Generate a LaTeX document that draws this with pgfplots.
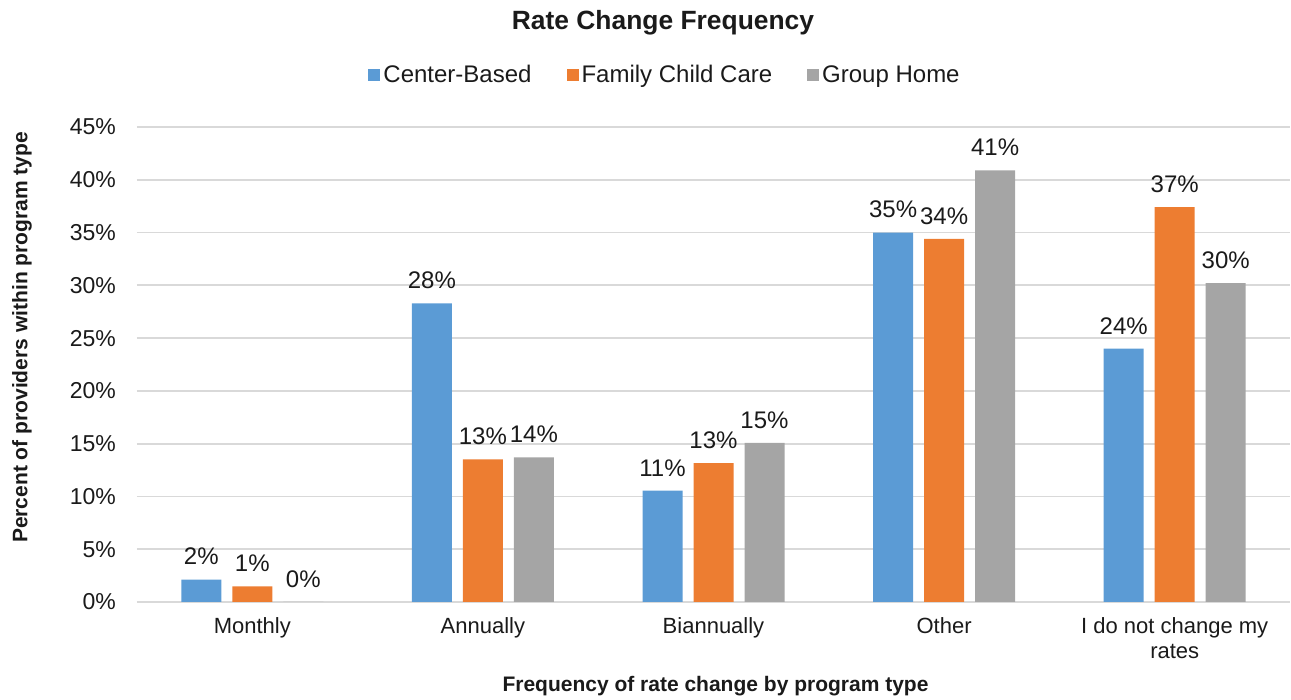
\documentclass[border=0pt]{standalone}
\usepackage{fontspec}
\setmainfont{Liberation Sans}
\usepackage{pgfplots}
\pgfplotsset{compat=1.18}
\usepackage{pgfplotstable}
\definecolor{cbblue}{HTML}{5B9BD5}
\definecolor{fccorange}{HTML}{ED7D31}
\definecolor{ghgrey}{HTML}{A5A5A5}
\definecolor{gridgrey}{HTML}{D9D9D9}
\definecolor{txt}{HTML}{1A1A1A}

\pgfplotstableread{
x y lbl
0 2.13 2
1 28.3 28
2 10.55 11
3 35.0 35
4 24.0 24
}\cbdata
\pgfplotstableread{
x y lbl
0 1.49 1
1 13.5 13
2 13.15 13
3 34.4 34
4 37.4 37
}\fccdata
\pgfplotstableread{
x y lbl
0 0 0
1 13.7 14
2 15.07 15
3 40.9 41
4 30.2 30
}\ghdata

\begin{document}
\begin{tikzpicture}[x=1pt,y=1pt]
\path[use as bounding box] (0,0) rectangle (645.5,350);
\begin{axis}[
  at={(68.5pt,49pt)}, anchor=south west,
  scale only axis, width=576.5pt, height=237.5pt,
  ybar=5.5pt, bar width=20pt,
  xmin=-0.5, xmax=4.5, ymin=0, ymax=45,
  xtick={0,1,2,3,4},
  xticklabels={Monthly,Annually,Biannually,Other,{I do not change my\\rates}},
  ytick={0,5,...,45},
  yticklabel={\pgfmathprintnumber{\tick}\%},
  /pgf/number format/assume math mode=true,
  major tick length=0pt,
  axis line style={draw=none},
  ymajorgrids, grid style={gridgrey, line width=0.9pt},
  ticklabel style={font=\fontsize{11.5}{12.5}\selectfont, text=txt},
  xticklabel style={align=center, yshift=-4pt, font=\fontsize{11}{12.5}\selectfont},
  yticklabel style={xshift=-7pt},
  clip=false,
  point meta=explicit symbolic,
  nodes near coords={\pgfplotspointmeta\%},
  every node near coord/.append style={font=\fontsize{12}{13}\selectfont, text=txt, inner sep=0pt, yshift=7pt},
  legend columns=3,
  legend style={at={(0.4584,1.106)}, anchor=center, draw=none, fill=none,
    font=\fontsize{12}{13}\selectfont, text=txt,
    nodes={inner xsep=1.5pt, inner ysep=1pt, text height=8.6pt, text depth=2.5pt},
    /tikz/every even column/.append style={column sep=16pt}},
  legend cell align=left,
]
\addplot[fill=cbblue, draw=none,
  legend image code/.code={\fill[cbblue] (0pt,-2pt) rectangle (6pt,4pt);}]
  table[x=x, y=y, meta=lbl]{\cbdata};
\addlegendentry{Center-Based}
\addplot[fill=fccorange, draw=none,
  legend image code/.code={\fill[fccorange] (0pt,-2pt) rectangle (6pt,4pt);}]
  table[x=x, y=y, meta=lbl]{\fccdata};
\addlegendentry{Family Child Care}
\addplot[fill=ghgrey, draw=none,
  legend image code/.code={\fill[ghgrey] (0pt,-2pt) rectangle (6pt,4pt);}]
  table[x=x, y=y, meta=lbl]{\ghdata};
\addlegendentry{Group Home}
\end{axis}
\node[anchor=base, font=\bfseries\fontsize{13.2}{15}\selectfont, text=txt] at (331.5,335.3) {Rate Change Frequency};
\node[rotate=90, font=\bfseries\fontsize{10.5}{12}\selectfont, text=txt] at (11,181.25) {Percent of providers within program type};
\node[font=\bfseries\fontsize{10.5}{12}\selectfont, text=txt] at (357.75,7) {Frequency of rate change by program type};
\end{tikzpicture}
\end{document}
